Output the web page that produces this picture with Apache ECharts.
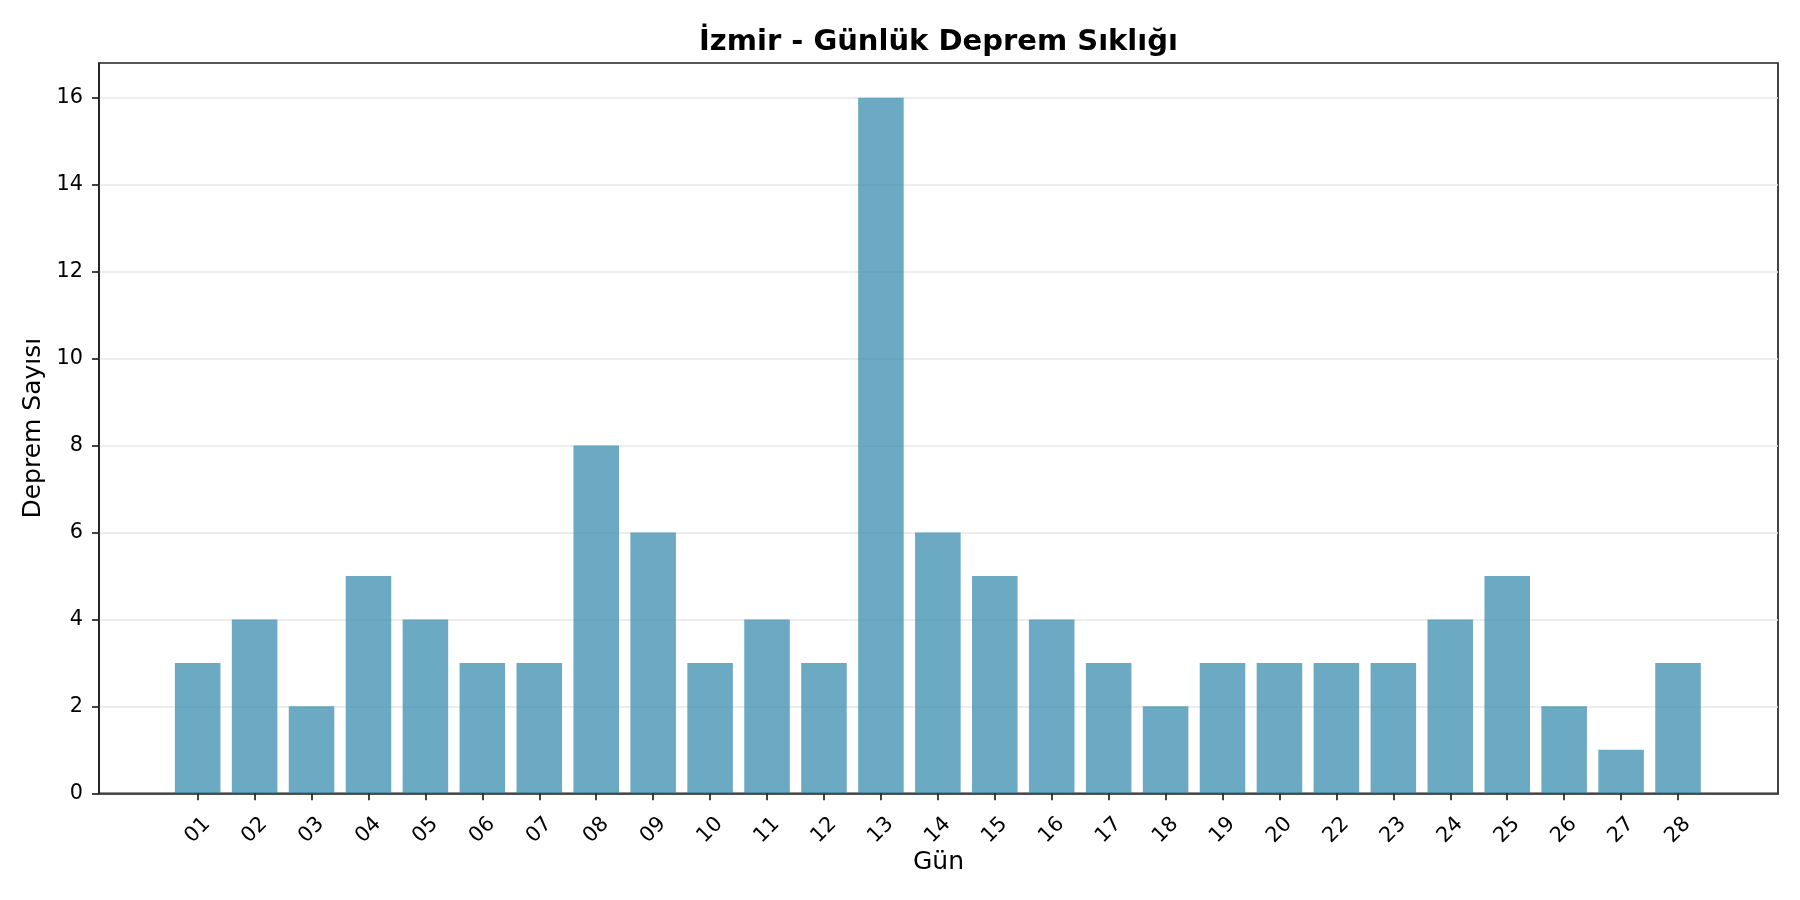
<!DOCTYPE html>
<html lang="tr">
<head>
<meta charset="UTF-8">
<title>İzmir - Günlük Deprem Sıklığı</title>
<script src="https://cdn.jsdelivr.net/npm/echarts@6/dist/echarts.min.js"></script>
<style>
  html, body { margin: 0; padding: 0; background: #fff; }
  #chart { width: 1800px; height: 900px; }
</style>
</head>
<body>
<div id="chart"></div>
<script>
// gün etiketleri (21 yok) ve günlük deprem sayıları
var days = ['01', '02', '03', '04', '05', '06', '07', '08', '09', '10',
            '11', '12', '13', '14', '15', '16', '17', '18', '19', '20',
            '22', '23', '24', '25', '26', '27', '28'];
var counts = [3, 4, 2, 5, 4, 3, 3, 8, 6, 3,
              4, 3, 16, 6, 5, 4, 3, 2, 3, 3,
              3, 3, 4, 5, 2, 1, 3];
var yTicks = [0, 2, 4, 6, 8, 10, 12, 14, 16];

var FONT = 'DejaVu Sans';
var INK = '#222';

var chart = echarts.init(document.getElementById('chart'));

var option = {
    animation: false,
    backgroundColor: '#fff',
    textStyle: { fontFamily: FONT },
    title: {
        text: 'İzmir - Günlük Deprem Sıklığı',
        left: 938.5,
        top: 28,
        padding: 0,
        textAlign: 'center',
        textStyle: { fontFamily: FONT, fontSize: 29, fontWeight: 'bold', color: '#000' }
    },
    grid: [
        // çerçeve + y ekseni + ızgara
        { left: 99, right: 22, top: 63, bottom: 106.7, show: true,
          borderColor: INK, borderWidth: 1.7, backgroundColor: 'transparent' },
        // çubuklar (matplotlib kenar boşluğu için içeride)
        { left: 169.2, right: 93.5, top: 63, bottom: 106.7 }
    ],
    xAxis: [
        {
            gridIndex: 0, type: 'value', min: 0, max: 1,
            axisLine: { show: true, lineStyle: { color: INK, width: 1.7 } },
            axisTick: { show: false },
            axisLabel: { show: false },
            splitLine: { show: false },
            name: 'Gün',
            nameLocation: 'middle',
            nameGap: 57,
            nameTextStyle: { fontFamily: FONT, fontSize: 25, color: '#000' }
        },
        {
            gridIndex: 1, type: 'category', data: days,
            boundaryGap: true,
            axisLine: { show: false },
            axisTick: { show: true, alignWithLabel: true, length: 7,
                        lineStyle: { color: INK, width: 1.7 } },
            axisLabel: { interval: 0, rotate: 45, align: 'center', verticalAlign: 'middle',
                         margin: 37, fontFamily: FONT, fontSize: 20.8, color: '#000' },
            splitLine: { show: false }
        }
    ],
    yAxis: [
        {
            gridIndex: 0, type: 'value', min: 0, max: 16.8, interval: 2,
            axisLine: { show: true, lineStyle: { color: INK, width: 1.7 } },
            axisTick: { show: true, length: 7, customValues: yTicks,
                        lineStyle: { color: INK, width: 1.7 } },
            axisLabel: { margin: 16, customValues: yTicks,
                         fontFamily: FONT, fontSize: 20.8, color: '#000' },
            splitLine: { show: true, lineStyle: { color: '#e7e7e7', width: 1.7 } },
            name: 'Deprem Sayısı',
            nameLocation: 'middle',
            nameRotate: 90,
            nameGap: 47,
            nameTextStyle: { fontFamily: FONT, fontSize: 25, color: '#000' }
        },
        { gridIndex: 1, type: 'value', min: 0, max: 16.8, show: false }
    ],
    series: [{
        type: 'bar',
        xAxisIndex: 1,
        yAxisIndex: 1,
        data: counts,
        barWidth: '80%',
        itemStyle: { color: '#2E86AB', opacity: 0.7 }
    }]
};

chart.setOption(option);
</script>
</body>
</html>
